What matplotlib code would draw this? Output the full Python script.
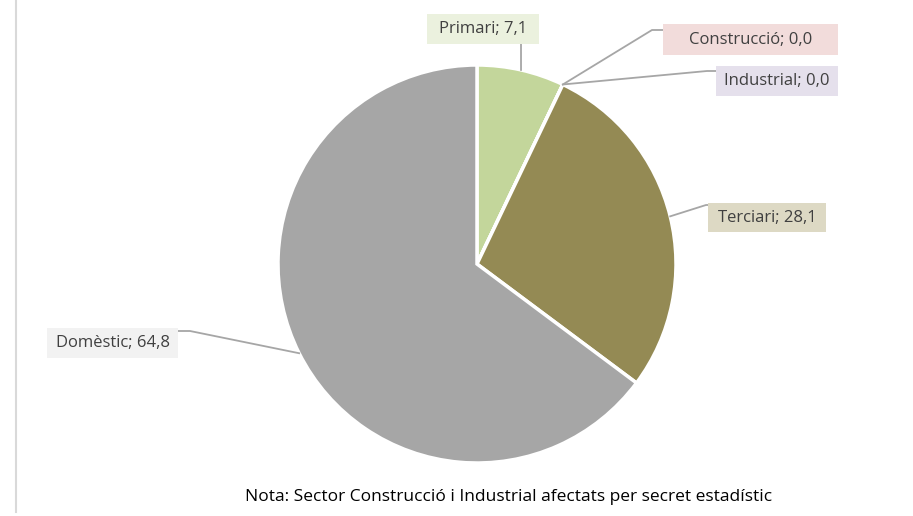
import matplotlib.pyplot as plt
from matplotlib.patches import Rectangle
import numpy as np

plt.rcParams['font.family'] = ['Open Sans', 'DejaVu Sans']

sectors = ["Primari", "Construcció", "Industrial", "Terciari", "Domèstic"]
values = [7.1, 0.0, 0.0, 28.1, 64.8]
labels = ["Primari; 7,1", "Construcció; 0,0", "Industrial; 0,0",
          "Terciari; 28,1", "Domèstic; 64,8"]
nota = "Nota: Sector Construcció i Industrial afectats per secret estadístic"

wedge_colors = ["#c3d69b", "#c0504d", "#8064a2", "#948a54", "#a6a6a6"]
box_colors = ["#ebf1de", "#f2dcdb", "#e5e0ec", "#ddd9c4", "#f2f2f2"]

W, H = 913, 516
cx, cy, r = 477, 264, 199

fig = plt.figure(figsize=(W / 100, H / 100), dpi=100)
ax = fig.add_axes([0, 0, 1, 1])

def fy(py):
    return H - py

ax.pie(
    values,
    colors=wedge_colors,
    startangle=90,
    counterclock=False,
    center=(cx, fy(cy)),
    radius=r,
    wedgeprops=dict(edgecolor="white", linewidth=2.5),
    frame=True
)
ax.set_xlim(0, W)
ax.set_ylim(0, H)
ax.set_aspect("equal")
ax.axis("off")

# label boxes (x0, x1, y0, y1) and leader elbows, pixel coords
boxes = [
    (427, 539, 14, 44),
    (663, 838, 24, 55),
    (716, 838, 66, 96),
    (708, 826, 203, 232),
    (47, 178, 328, 358),
]
elbows = [
    [(521, 44)],
    [(652, 30), (663, 30)],
    [(707, 71), (716, 71)],
    [(706, 205), (708, 205)],
    [(190, 331), (178, 331)],
]

total = sum(values)
ang = 90.0
for i, v in enumerate(values):
    span = v / total * 360
    mid = np.radians(ang - span / 2)
    ang -= span
    px = cx + r * np.cos(mid)
    py = cy - r * np.sin(mid)
    pts = [(px, py)] + elbows[i]
    ax.plot([p[0] for p in pts], [fy(p[1]) for p in pts],
            color="#a6a6a6", lw=1.3, zorder=3)
    x0, x1, y0, y1 = boxes[i]
    ax.add_patch(Rectangle((x0, fy(y1)), x1 - x0, y1 - y0,
                           fc=box_colors[i], ec="none", zorder=4))
    ax.text((x0 + x1) / 2, fy((y0 + y1) / 2), labels[i],
            ha="center", va="center", fontsize=12,
            color="#404040", zorder=5)

ax.text(509, fy(497), nota, ha="center", va="center",
        fontsize=12.5, color="#000000")

ax.plot([16, 16], [fy(0), fy(512)], color="#d9d9d9", lw=1.5)

fig.savefig("out.png", dpi=100, facecolor="white")
